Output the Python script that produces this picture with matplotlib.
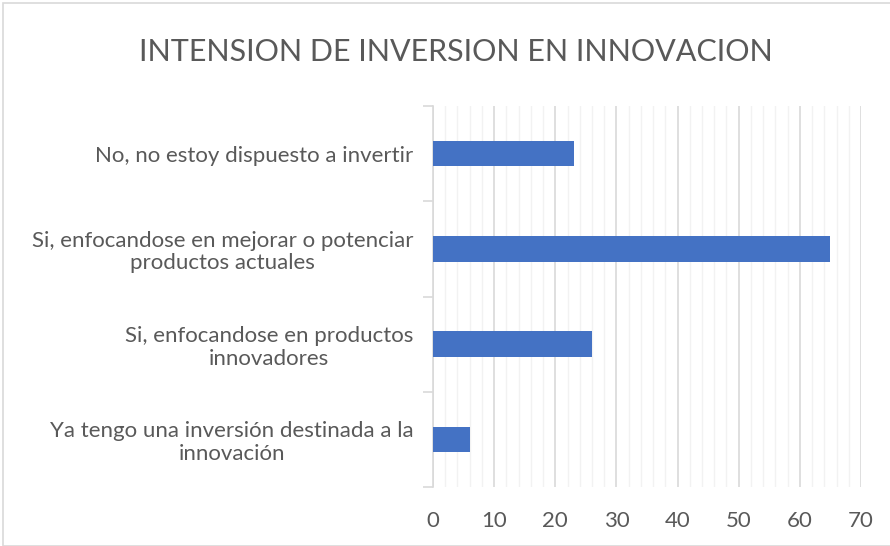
import matplotlib.pyplot as plt
import numpy as np
from matplotlib.patches import Rectangle
from matplotlib.ticker import MultipleLocator

plt.rcParams['font.family'] = ['Lato', 'DejaVu Sans']

categories = ["Ya tengo una inversión destinada a la\ninnovación",
              "Si, enfocandose en productos\ninnovadores",
              "Si, enfocandose en mejorar o potenciar\nproductos actuales",
              "No, no estoy dispuesto a invertir"]
values = [6, 26, 65, 23]
title = "INTENSION DE INVERSION EN INNOVACION"

text_col = "#595959"

fig = plt.figure(figsize=(8.9, 5.46), dpi=100)
ax = fig.add_axes([433/890, 1-487/546, (861-433)/890, (487-106)/546])

pos = np.arange(len(categories))
ax.barh(pos, values, height=0.27, color="#4472C4", zorder=3)

ax.set_xlim(0, 70)
ax.set_ylim(-0.5, len(categories)-0.5)
ax.xaxis.set_major_locator(MultipleLocator(10))
ax.xaxis.set_minor_locator(MultipleLocator(2))
ax.grid(axis='x', which='major', color="#D9D9D9", lw=1.2, zorder=0)
ax.grid(axis='x', which='minor', color="#F2F2F2", lw=1.0, zorder=0)

ax.set_yticks(np.arange(-0.5, len(categories), 1.0))
ax.set_yticklabels([])
ax.set_yticks(pos, minor=True)
ax.set_yticklabels(categories, minor=True)
ax.tick_params(axis='y', which='major', length=7, color="#D9D9D9", width=1.2)
ax.tick_params(axis='y', which='minor', length=0, pad=14, labelsize=16, labelcolor=text_col)
for lbl in ax.get_yticklabels(minor=True):
    lbl.set_multialignment('center')
    lbl.set_linespacing(1.15)
ax.tick_params(axis='x', which='both', length=0, labelsize=16, labelcolor=text_col, pad=17)

for s in ['top', 'right', 'bottom']:
    ax.spines[s].set_visible(False)
ax.spines['left'].set_color("#D9D9D9")
ax.spines['left'].set_linewidth(1.2)

fig.text(456/890, 1-52/546, title, ha='center', va='center', fontsize=22,
         color=text_col)

fig.patches.append(Rectangle((3/890, 0), 1, 1-3/546, transform=fig.transFigure,
                             fill=False, edgecolor="#D9D9D9", lw=1.2))

fig.savefig("out.png", dpi=100)
